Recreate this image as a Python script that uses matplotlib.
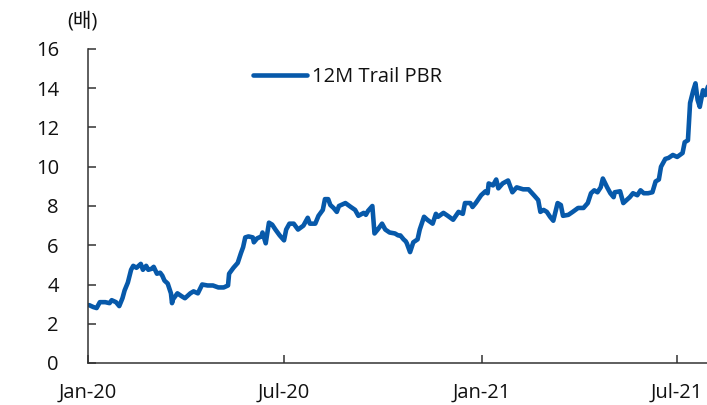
import matplotlib
matplotlib.use("Agg")
import matplotlib.pyplot as plt
import pandas as pd

plt.rcParams['font.family'] = ['Open Sans', 'Noto Sans CJK KR', 'DejaVu Sans']

dates = [
    "2020-01-02", "2020-01-06", "2020-01-09", "2020-01-12", "2020-01-17", "2020-01-21",
    "2020-01-23", "2020-01-27", "2020-01-30", "2020-02-02", "2020-02-04", "2020-02-07",
    "2020-02-10", "2020-02-12", "2020-02-15", "2020-02-19", "2020-02-21", "2020-02-24",
    "2020-02-26", "2020-02-29", "2020-03-02", "2020-03-05", "2020-03-08", "2020-03-10",
    "2020-03-12", "2020-03-15", "2020-03-18", "2020-03-19", "2020-03-20", "2020-03-24",
    "2020-03-28", "2020-03-31", "2020-04-05", "2020-04-08", "2020-04-12", "2020-04-16",
    "2020-04-21", "2020-04-26", "2020-05-01", "2020-05-06", "2020-05-10", "2020-05-11",
    "2020-05-15", "2020-05-19", "2020-05-22", "2020-05-24", "2020-05-26", "2020-05-29",
    "2020-06-02", "2020-06-03", "2020-06-06", "2020-06-10", "2020-06-11", "2020-06-14",
    "2020-06-17", "2020-06-20", "2020-06-23", "2020-06-27", "2020-07-01", "2020-07-03",
    "2020-07-06", "2020-07-10", "2020-07-14", "2020-07-19", "2020-07-23", "2020-07-25",
    "2020-07-30", "2020-08-02", "2020-08-06", "2020-08-08", "2020-08-11", "2020-08-13",
    "2020-08-16", "2020-08-19", "2020-08-21", "2020-08-27", "2020-09-01", "2020-09-05",
    "2020-09-08", "2020-09-13", "2020-09-15", "2020-09-17", "2020-09-21", "2020-09-23",
    "2020-09-26", "2020-09-30", "2020-10-03", "2020-10-07", "2020-10-12", "2020-10-15",
    "2020-10-17", "2020-10-20", "2020-10-22", "2020-10-23", "2020-10-26", "2020-10-29",
    "2020-11-02", "2020-11-04", "2020-11-08", "2020-11-11", "2020-11-16", "2020-11-19",
    "2020-11-21", "2020-11-26", "2020-11-30", "2020-12-05", "2020-12-10", "2020-12-14",
    "2020-12-16", "2020-12-21", "2020-12-23", "2020-12-26", "2020-12-31", "2021-01-04",
    "2021-01-06", "2021-01-07", "2021-01-11", "2021-01-14", "2021-01-16", "2021-01-20",
    "2021-01-25", "2021-01-29", "2021-02-02", "2021-02-08", "2021-02-13", "2021-02-18",
    "2021-02-22", "2021-02-24", "2021-02-27", "2021-03-02", "2021-03-05", "2021-03-08",
    "2021-03-12", "2021-03-15", "2021-03-17", "2021-03-22", "2021-03-26", "2021-03-31",
    "2021-04-05", "2021-04-09", "2021-04-12", "2021-04-15", "2021-04-18", "2021-04-21",
    "2021-04-23", "2021-04-27", "2021-04-30", "2021-05-03", "2021-05-04", "2021-05-09",
    "2021-05-12", "2021-05-16", "2021-05-18", "2021-05-21", "2021-05-25", "2021-05-28",
    "2021-05-31", "2021-06-04", "2021-06-08", "2021-06-11", "2021-06-14", "2021-06-16",
    "2021-06-20", "2021-06-23", "2021-06-27", "2021-07-01", "2021-07-06", "2021-07-08",
    "2021-07-11", "2021-07-13", "2021-07-16", "2021-07-18", "2021-07-20", "2021-07-22",
    "2021-07-25", "2021-07-27", "2021-07-30",
]

pbr = [
    2.95, 2.85, 2.80, 3.10, 3.10, 3.05,
    3.20, 3.10, 2.90, 3.30, 3.70, 4.10,
    4.75, 4.95, 4.85, 5.05, 4.75, 4.95,
    4.75, 4.80, 4.90, 4.55, 4.60, 4.45,
    4.20, 4.05, 3.55, 3.05, 3.25, 3.55,
    3.40, 3.30, 3.55, 3.65, 3.55, 4.00,
    3.95, 3.95, 3.85, 3.85, 3.95, 4.55,
    4.85, 5.10, 5.60, 5.90, 6.40, 6.45,
    6.40, 6.15, 6.35, 6.45, 6.65, 6.10,
    7.15, 7.05, 6.80, 6.50, 6.25, 6.80,
    7.10, 7.10, 6.80, 7.00, 7.40, 7.10,
    7.10, 7.50, 7.80, 8.35, 8.35, 8.05,
    7.90, 7.70, 8.00, 8.15, 7.95, 7.80,
    7.50, 7.65, 7.55, 7.75, 8.00, 6.60,
    6.80, 7.10, 6.80, 6.65, 6.60, 6.50,
    6.50, 6.30, 6.20, 6.10, 5.65, 6.15,
    6.30, 6.80, 7.45, 7.30, 7.10, 7.60,
    7.45, 7.65, 7.50, 7.30, 7.70, 7.60,
    8.15, 8.15, 7.95, 8.15, 8.55, 8.75,
    8.65, 9.15, 9.05, 9.35, 8.90, 9.15,
    9.30, 8.70, 8.95, 8.85, 8.85, 8.55,
    8.30, 7.70, 7.80, 7.70, 7.45, 7.25,
    8.15, 8.05, 7.50, 7.55, 7.70, 7.90,
    7.90, 8.15, 8.65, 8.80, 8.70, 8.95,
    9.40, 8.95, 8.65, 8.45, 8.70, 8.75,
    8.15, 8.35, 8.45, 8.65, 8.55, 8.80,
    8.65, 8.65, 8.70, 9.25, 9.35, 10.00,
    10.40, 10.45, 10.60, 10.50, 10.70, 11.25,
    11.35, 13.25, 13.90, 14.25, 13.40, 13.05,
    13.90, 13.65, 14.15,
]

series_name = "12M Trail PBR"
unit_label = "(배)"
xtick_dates = ["2020-01-01", "2020-07-01", "2021-01-01", "2021-07-01"]
xtick_labels = ["Jan-20", "Jul-20", "Jan-21", "Jul-21"]
yticks = [0, 2, 4, 6, 8, 10, 12, 14, 16]

x = pd.to_datetime(dates)

fig = plt.figure(figsize=(7.07, 4.05), dpi=100)
ax = fig.add_axes([88 / 707, 1 - 363 / 405, 1 - 88 / 707, (363 - 49) / 405])

ax.plot(x, pbr, color="#0759AA", lw=3.3, solid_joinstyle="round",
        solid_capstyle="round", label=series_name)

ax.set_xlim(pd.Timestamp("2020-01-01"), pd.Timestamp("2020-01-01") + pd.Timedelta(days=574.7))
ax.set_ylim(0, 16)
ax.set_yticks(yticks)
ax.set_xticks(pd.to_datetime(xtick_dates))
ax.set_xticklabels(xtick_labels)

for s in ["top", "right"]:
    ax.spines[s].set_visible(False)
for s in ["left", "bottom"]:
    ax.spines[s].set_color("#333333")
    ax.spines[s].set_linewidth(1.1)

ax.tick_params(axis="y", direction="in", length=6, width=1.1, color="#333333",
               labelsize=14.5, pad=21, labelcolor="#111111")
ax.tick_params(axis="x", direction="in", length=6, width=1.1, color="#333333",
               labelsize=14.5, pad=14, labelcolor="#111111")

leg = ax.legend(loc="center left", bbox_to_anchor=(253 / 707, 1 - 77 / 405),
                bbox_transform=fig.transFigure, frameon=False, fontsize=14.5,
                handlelength=2.7, handletextpad=0.25, borderpad=0, borderaxespad=0)
for t in leg.get_texts():
    t.set_color("#111111")

fig.text(82 / 707, 1 - 21 / 405, unit_label, ha="center", va="center",
         fontsize=14.5, color="#111111")

fig.savefig("out.png", dpi=100)
